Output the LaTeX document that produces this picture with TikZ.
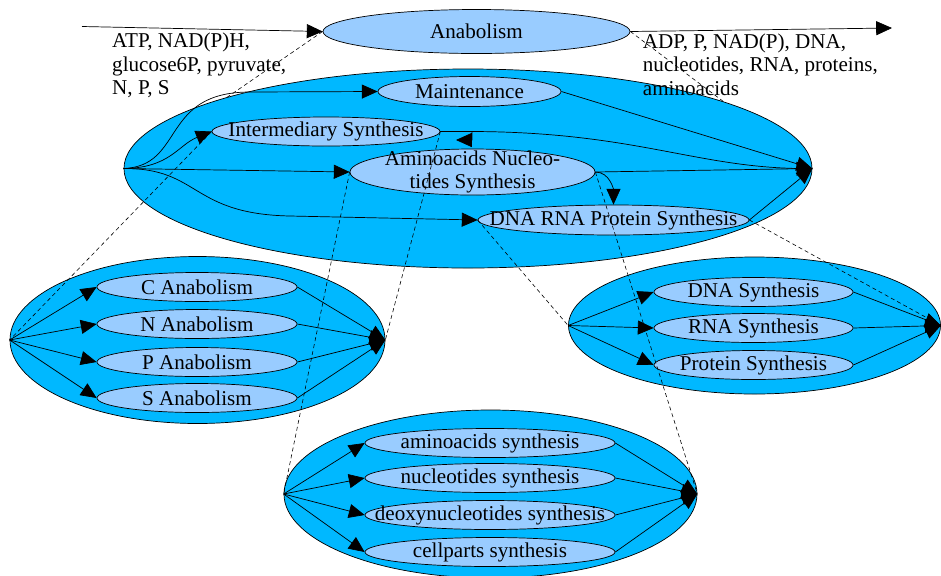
\documentclass[tikz,border=0pt]{standalone}
\usepackage{fontspec}
\setmainfont{Liberation Serif}
\usetikzlibrary{shapes,arrows.meta,backgrounds}
\definecolor{skyblue}{HTML}{00B8FF}
\definecolor{paleblue}{HTML}{99CCFF}
\tikzset{
  pre/.style      = {{Triangle[length=13.5pt,width=12pt]}-, semithick},
  post/.style     = {-{Triangle[length=13.5pt,width=12pt]}, semithick},
  pathway/.style  = {draw, semithick, ellipse, fill=skyblue, inner sep=0pt},
  stage/.style    = {draw, semithick, ellipse, fill=paleblue, inner sep=0pt, minimum height=0.87cm},
  zoomline/.style = {line width=0.5pt, dash pattern=on 3.4pt off 2.6pt},
  flowtext/.style = {align=left, anchor=north west, inner sep=0pt}
}

\begin{document}
\begin{tikzpicture}[x=0.03cm, y=-0.03cm, font=\fontsize{18}{20}\selectfont]
  \useasboundingbox (0,0) rectangle (941,575);

  % top level
  \node[stage, minimum width=9.21cm, minimum height=1.32cm] (ana) at (476.5,31.5) [label=center:{Anabolism}] {};
  \coordinate (supply) at (82,26.5);
  \coordinate (release) at (892,28);
  \draw[post] (supply) -- (ana.west);
  \draw[post] (ana.east) -- (release);

  % anabolism in detail
  \node[pathway, minimum width=20.64cm, minimum height=5.97cm] (overview) at (468,168.5) {};
  \node[flowtext] (substrates) at (112,33) {ATP, NAD(P)H,\\glucose6P, pyruvate,\\N, P, S};
  \node[flowtext] (products) at (642.7,33.5) {ADP, P, NAD(P), DNA,\\nucleotides, RNA, proteins,\\aminoacids};
  \node[stage, minimum width=5.49cm, minimum height=0.9cm] (maint) at (469.5,91.5) [label=center:{Maintenance}] {};
  \node[stage, minimum width=6.84cm] (inter) at (326,131.5) [label=center:{Intermediary Synthesis}] {};
  \node[stage, minimum width=7.35cm, minimum height=1.38cm] (monomer) at (472.5,172)
    [label={[align=center]center:{Aminoacids Nucleo-\\tides Synthesis}}] {};
  \node[stage, minimum width=8.13cm, minimum height=0.9cm] (polymer) at (613.5,220) [label=center:{DNA RNA Protein Synthesis}] {};

  \draw[post] (overview.west) .. controls (185,166) and (160,92) .. (250,92) -- (maint.west);
  \draw[post] (overview.west) .. controls (170,168) and (178,145) .. (inter.west);
  \draw[post] (overview.west) -- (monomer.west);
  \draw[post] (overview.west) .. controls (200,168) and (190,214) .. (290,216) -- (polymer.west);
  \draw[post] (maint.east) -- (overview.east);
  \draw[post] (monomer.east) -- (overview.east);
  \draw[post] (polymer.east) -- (overview.east);
  \draw[post] (monomer.east) to[out=0,in=90] (polymer.north);
  \coordinate (ijoin) at (472,131.5);
  \coordinate (itip) at (456,140);
  \draw[semithick] (inter.east) -- (ijoin);
  \draw[post] (overview.east) .. controls (700,170) and (640,132) .. (ijoin) -- (ijoin |- itip) -- (itip);

  % element anabolism
  \node[pathway, minimum width=11.25cm, minimum height=5.01cm] (elements) at (197.5,340) {};
  \node[stage, minimum width=6cm] (cana) at (197,287) [label=center:{C Anabolism}] {};
  \node[stage, minimum width=6cm] (nana) at (197,324) [label=center:{N Anabolism}] {};
  \node[stage, minimum width=6cm] (pana) at (197,362) [label=center:{P Anabolism}] {};
  \node[stage, minimum width=6cm] (sana) at (197,398) [label=center:{S Anabolism}] {};
  \path (elements.west) edge[post] (cana.west) edge[post] (nana.west)
                        edge[post] (pana.west) edge[post] (sana.west);
  \path (elements.east) edge[pre] (cana.east) edge[pre] (nana.east)
                        edge[pre] (pana.east) edge[pre] (sana.east);

  % polymer synthesis
  \node[pathway, minimum width=11.16cm, minimum height=4.11cm] (polysyn) at (754.5,325.5) {};
  \node[stage, minimum width=5.97cm] (dnasyn) at (753.5,292) [label=center:{DNA Synthesis}] {};
  \node[stage, minimum width=5.97cm] (rnasyn) at (753.5,328) [label=center:{RNA Synthesis}] {};
  \node[stage, minimum width=5.97cm] (protsyn) at (753.5,365) [label=center:{Protein Synthesis}] {};
  \path (polysyn.west) edge[post] (dnasyn.west) edge[post] (rnasyn.west) edge[post] (protsyn.west);
  \path (polysyn.east) edge[pre] (dnasyn.east) edge[pre] (rnasyn.east) edge[pre] (protsyn.east);

  % monomer synthesis
  \node[pathway, minimum width=12.39cm, minimum height=5.04cm] (monosyn) at (490.5,494) {};
  \node[stage, minimum width=7.5cm] (aasyn) at (490,443) [label=center:{aminoacids synthesis}] {};
  \node[stage, minimum width=7.5cm] (ntsyn) at (490,478) [label=center:{nucleotides synthesis}] {};
  \node[stage, minimum width=7.5cm] (dntsyn) at (490,515) [label=center:{deoxynucleotides synthesis}] {};
  \node[stage, minimum width=7.5cm] (cellsyn) at (490,552) [label=center:{cellparts synthesis}] {};
  \path (monosyn.west) edge[post] (aasyn.west) edge[post] (ntsyn.west)
                       edge[post] (dntsyn.west) edge[post] (cellsyn.west);
  \path (monosyn.east) edge[pre] (aasyn.east) edge[pre] (ntsyn.east)
                       edge[pre] (dntsyn.east) edge[pre] (cellsyn.east);

  % zoom lines
  \begin{scope}[on background layer]
    \draw[zoomline] (ana.west) -- (overview.west);
    \draw[zoomline] (ana.east) -- (overview.east);
  \end{scope}
  \draw[zoomline] (inter.west) -- (elements.west);
  \draw[zoomline] (inter.east) -- (elements.east);
  \draw[zoomline] (monomer.west) -- (monosyn.west);
  \draw[zoomline] (monomer.east) -- (monosyn.east);
  \draw[zoomline] (polymer.west) -- (polysyn.west);
  \draw[zoomline] (polymer.east) -- (polysyn.east);
\end{tikzpicture}
\end{document}
